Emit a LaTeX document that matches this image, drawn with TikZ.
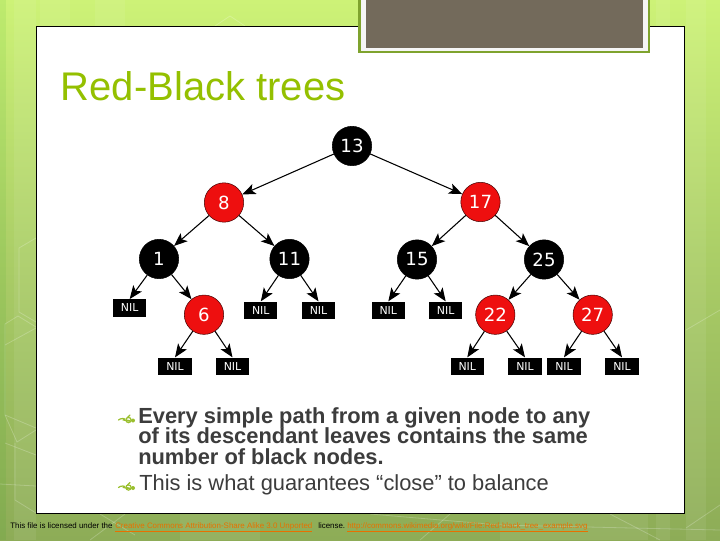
\documentclass[tikz,border=0pt]{standalone}
\usepackage{fontspec}
\setmainfont{Liberation Sans}
\newfontfamily\numfont{DejaVu Sans}
\usetikzlibrary{arrows.meta}
\definecolor{titlegreen}{HTML}{94C000}
\definecolor{bodygrey}{HTML}{3C3C3C}
\definecolor{linkorange}{HTML}{E87000}
\definecolor{rednode}{HTML}{EE0F0F}
\definecolor{bgtop}{HTML}{CDF277}
\definecolor{bgmid}{HTML}{A9CC66}
\definecolor{bgbot}{HTML}{8DAC57}
\definecolor{frameolive}{HTML}{7FA32E}
\definecolor{plate}{HTML}{736A5B}
\definecolor{bulletgreen}{HTML}{9ABF2E}
\tikzset{
  blacknode/.style={circle,fill=black,draw=black,line width=.4pt,minimum size=29.5pt,inner sep=0pt,text=white,font=\numfont\fontsize{13.6}{15}\selectfont},
  rednodest/.style={circle,fill=rednode,draw=black!70!rednode,line width=.4pt,minimum size=29.5pt,inner sep=0pt,text=white,font=\numfont\fontsize{13.6}{15}\selectfont},
  nilbox/.style={rectangle,fill=black,minimum width=24.8pt,minimum height=13pt,inner sep=0pt,text=white,font=\numfont\fontsize{8.2}{9}\selectfont},
  edgearrow/.style={line width=.8pt,-{Stealth[length=10pt,width=8pt,inset=2.4pt]}},
  hexline/.style={white,opacity=.22,line width=.6pt},
  stripe/.style={white,opacity=.07},
  bodytext/.style={anchor=base west,inner sep=0pt,text=bodygrey},
  foot/.style={anchor=base west,inner sep=0pt,font=\fontsize{5.95}{7}\selectfont},
  flourish/.style={bulletgreen,line width=.9pt,line cap=round}
}
\begin{document}
\begin{tikzpicture}[x=.75pt,y=-.75pt]
\useasboundingbox (0,0) rectangle (720,540);
% background
\shade[top color=bgtop,bottom color=bgbot,middle color=bgmid] (0,0) rectangle (720,540);
\fill[black!0!green!60!black,opacity=.07] (0,0) rectangle (6,540);
\fill[stripe] (14,0) rectangle (36,540);
\fill[stripe] (40,0) rectangle (70,130);
\fill[stripe] (95,0) rectangle (125,26);
\fill[stripe] (686,0) rectangle (706,540);
\fill[stripe] (656,0) rectangle (670,540);
\fill[stripe] (500,514) rectangle (648,540);
\fill[stripe] (180,514) rectangle (260,540);
% faint hexagon lines
\draw[hexline] (36,238) -- (19,248) -- (19,312) -- (36,322);
\draw[hexline] (36,327) -- (18,316) -- (5,324) -- (5,415) -- (17,442) -- (36,430);
\draw[hexline] (5,345) -- (36,328);
\draw[hexline] (5,415) -- (36,428);
\draw[hexline] (5,443) -- (36,455);
\draw[hexline] (15,443) -- (15,500) -- (36,513);
\draw[hexline] (0,484) -- (36,486);
\draw[hexline] (90,540) -- (125,514);
\draw[hexline] (100,514) -- (135,535);
\draw[hexline] (370,514) -- (500,525) -- (720,530);
\draw[hexline] (420,540) -- (450,514);
\draw[hexline] (610,514) -- (660,540);
\draw[hexline] (686,528) -- (720,505);
\draw[hexline] (686,330) -- (720,310);
\draw[hexline] (215,26) -- (230,16) -- (245,26);
% slide panel
\draw[fill=white,draw=black,line width=.75pt] (36.5,26.5) rectangle (684.5,513.5);
% top plate
\fill[frameolive] (358.3,-2) rectangle (650,53.3);
\fill[white!96!black] (360.7,-2) rectangle (647.6,51);
\fill[plate] (366,-2) rectangle (643,48.3);
% title
\node[anchor=base west,inner sep=0pt,text=titlegreen,font=\fontsize{30}{32}\selectfont] (title) at (60.5,100) {Red-Black trees};
% tree nodes
\node[blacknode] (n13) at (352,146) {13};
\node[rednodest] (n8) at (224,202.5) {8};
\node[rednodest] (n17) at (480.5,202) {17};
\node[blacknode] (n1) at (159,259) {1};
\node[blacknode] (n11) at (289.5,259) {11};
\node[blacknode] (n15) at (417,259.5) {15};
\node[blacknode] (n25) at (544,259.5) {25};
\node[rednodest] (n6) at (204,314.7) {6};
\node[rednodest] (n22) at (495.3,314.7) {22};
\node[rednodest] (n27) at (592.7,314.7) {27};
\node[nilbox] (a) at (129.7,308) {NIL};
\node[nilbox] (b) at (260.8,310.3) {NIL};
\node[nilbox] (c) at (318.5,310.3) {NIL};
\node[nilbox] (d) at (388.3,310.3) {NIL};
\node[nilbox] (e) at (445.7,310.3) {NIL};
\node[nilbox] (f) at (175,366.3) {NIL};
\node[nilbox] (g) at (232.5,366.3) {NIL};
\node[nilbox] (h) at (467.3,366.3) {NIL};
\node[nilbox] (i) at (525,366.3) {NIL};
\node[nilbox] (j) at (564,366.3) {NIL};
\node[nilbox] (k) at (622,366.3) {NIL};
% edges
\foreach \p/\q in {n13/n8,n13/n17,n8/n1,n8/n11,n17/n15,n17/n25,n1/n6,n25/n22,n25/n27}
  \draw[edgearrow] (\p) -- (\q);
\foreach \p/\q in {n1/a,n11/b,n11/c,n15/d,n15/e,n6/f,n6/g,n22/h,n22/i,n27/j,n27/k}
  \draw[edgearrow] (\p) -- (\q.north);
% bullets
\foreach \yy/\nm in {420/bulA,487.5/bulB}{
  \coordinate (\nm) at (118.5,\yy);
  \draw[flourish] (\nm) .. controls +(1.5,-2) and +(3.5,-2) .. +(5,0) .. controls +(6,1.5) and +(7,1.5) .. +(8,0);
  \draw[flourish] (\nm) ++(10,0) circle (2.6);
  \draw[flourish] (\nm) ++(9,-2.5) -- +(2.5,-2.5);
  \fill[bulletgreen] (\nm) ++(14.5,0.5) circle (2);
}
% body text
\node[bodytext,font=\bfseries\fontsize{16.4}{18}\selectfont] (l1) at (138,423) {Every simple path from a given node to any};
\node[bodytext,font=\bfseries\fontsize{16.4}{18}\selectfont] (l2) at (138,443.7) {of its descendant leaves contains the same};
\node[bodytext,font=\bfseries\fontsize{16.4}{18}\selectfont] (l3) at (138,464.5) {number of black nodes.};
\node[bodytext,font=\fontsize{16.4}{18}\selectfont] (l4) at (139,490.7) {This is what guarantees “close” to balance};
% footer
\node[foot,text=black] (f1) at (10,528) {This file is licensed under the};
\node[foot,text=linkorange] (f2) at (115,528) {\underline{Creative Commons Attribution-Share Alike 3.0 Unported}};
\node[foot,text=black] (f3) at (318,528) {license.};
\node[foot,text=linkorange] (f4) at (347,528) {\underline{http://commons.wikimedia.org/wiki/File:Red-black\_tree\_example.svg}};
\end{tikzpicture}
\end{document}
